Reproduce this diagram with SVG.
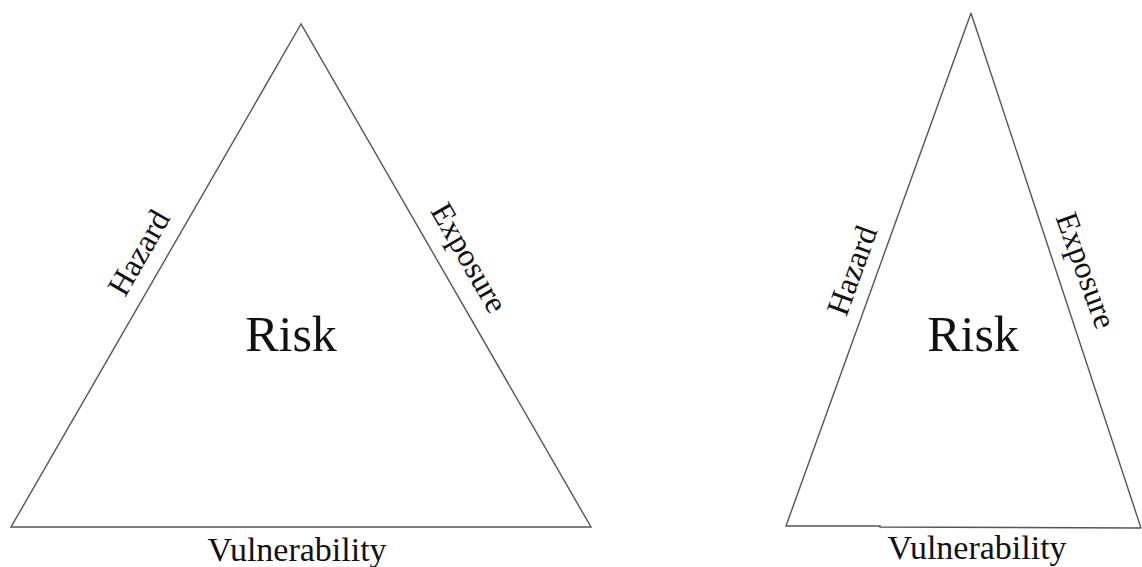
<svg xmlns="http://www.w3.org/2000/svg" width="1142" height="567" viewBox="0 0 1142 567">
<style>
.tri{fill:none;stroke:#555;stroke-width:1.4;stroke-linejoin:miter}
.lbl{font-family:"Liberation Serif","Times New Roman",serif;fill:#111;text-anchor:middle}
.side{font-size:32px}
.risk{font-size:50px}
.base{font-size:34px}
</style>
<rect width="1142" height="567" fill="#fff"/>
<g id="connectors">
<polygon class="tri" points="301,24 11,527 591,527"/>
<polyline class="tri" points="971,13 786,526 880,526 880,527 1141,528"/>
<line class="tri" x1="971" y1="13" x2="1141" y2="528"/>
</g>
<g id="left-triangle">
<text class="lbl risk" x="291" y="351">Risk</text>
<text class="lbl side" transform="translate(148,258) rotate(-60)">Hazard</text>
<text class="lbl side" transform="translate(460,263) rotate(60)">Exposure</text>
<text class="lbl base" x="297" y="561">Vulnerability</text>
</g>
<g id="right-triangle">
<text class="lbl risk" x="973" y="351">Risk</text>
<text class="lbl side" transform="translate(862,274) rotate(-70)">Hazard</text>
<text class="lbl side" transform="translate(1076,274) rotate(70)">Exposure</text>
<text class="lbl base" x="977" y="559">Vulnerability</text>
</g>
</svg>
